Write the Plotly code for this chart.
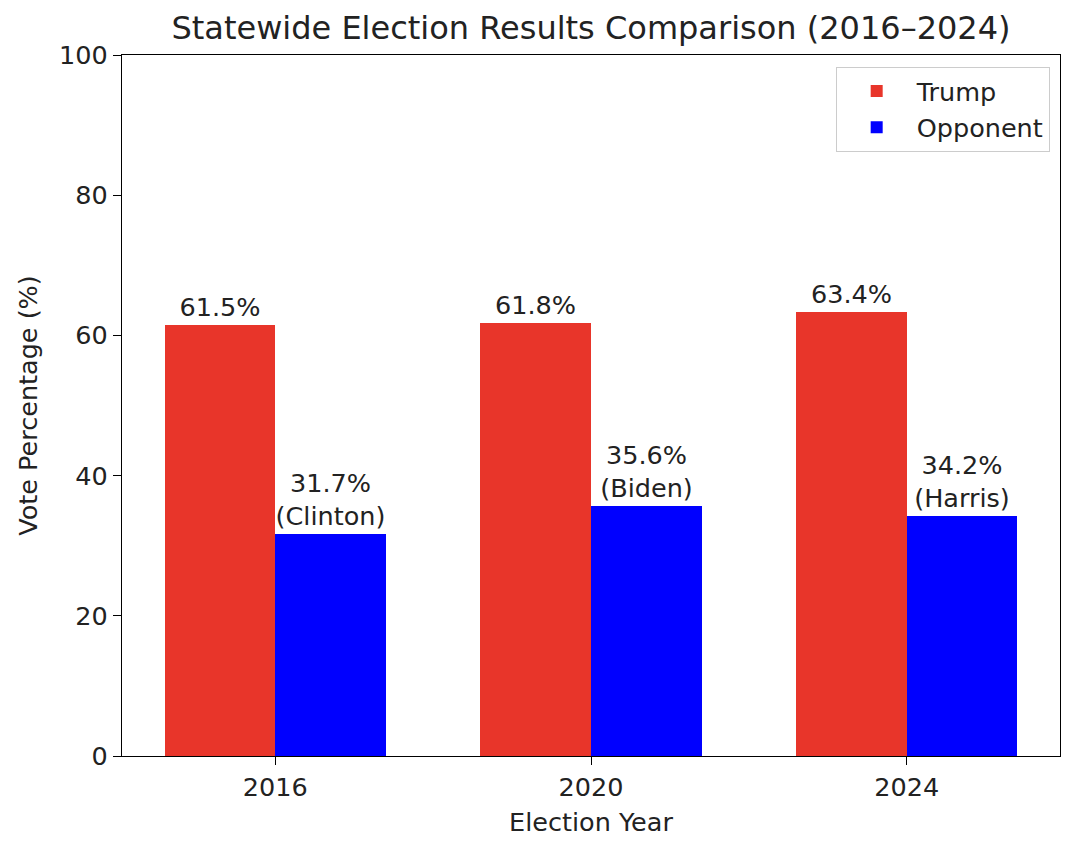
import plotly.graph_objects as go

years = ["2016", "2020", "2024"]
trump = [61.5, 61.8, 63.4]
opponent = [31.7, 35.6, 34.2]
opponent_names = ["Clinton", "Biden", "Harris"]

xpos = list(range(len(years)))
font = "DejaVu Sans"
fs = 25.5

fig = go.Figure()
fig.add_trace(go.Bar(
    x=xpos, y=trump, name="Trump", width=0.35, offset=-0.35,
    marker=dict(color="#E8352A", line=dict(width=0)),
    text=[f"{v}%" for v in trump], textposition="outside",
    textfont=dict(family=font, size=fs, color="#222"), cliponaxis=False,
))
fig.add_trace(go.Bar(
    x=xpos, y=opponent, name="Opponent", width=0.35, offset=0,
    marker=dict(color="#0000FF", line=dict(width=0)),
    text=[f"{v}%<br>({n})" for v, n in zip(opponent, opponent_names)], textposition="outside",
    textfont=dict(family=font, size=fs, color="#222"), cliponaxis=False,
))

fig.update_layout(
    width=1074, height=845,
    margin=dict(l=114, r=22, t=47, b=97, autoexpand=False),
    paper_bgcolor="white", plot_bgcolor="white",
    font=dict(family=font, size=fs, color="#222"),
    title=dict(text="Statewide Election Results Comparison (2016–2024)", x=583 / 1074,
               xanchor="center", y=1 - 20 / 845, yanchor="middle",
               font=dict(family=font, size=32, color="#222")),
    showlegend=True,
    legend=dict(x=0.989, xanchor="right", y=0.983, yanchor="top",
                bgcolor="white", bordercolor="#cccccc", borderwidth=1,
                font=dict(family=font, size=fs, color="#222"), itemwidth=70,
                tracegroupgap=4),
    bargap=0,
)
fig.update_xaxes(
    range=[-0.485, 2.485], tickmode="array", tickvals=xpos, ticktext=years,
    showline=True, linecolor="black", linewidth=1.4, mirror=True,
    ticks="outside", ticklen=8, tickcolor="black", tickwidth=1.4, showgrid=False, zeroline=False,
    title=dict(text="Election Year", font=dict(family=font, size=fs, color="#222"), standoff=12),
)
fig.update_yaxes(
    range=[0, 100], tickvals=[0, 20, 40, 60, 80, 100],
    showline=True, linecolor="black", linewidth=1.4, mirror=True,
    ticks="outside", ticklen=8, tickcolor="black", tickwidth=1.4, showgrid=False, zeroline=False,
    title=dict(text="Vote Percentage (%)", font=dict(family=font, size=fs, color="#222"), standoff=14),
)

fig.write_html("out.html")
